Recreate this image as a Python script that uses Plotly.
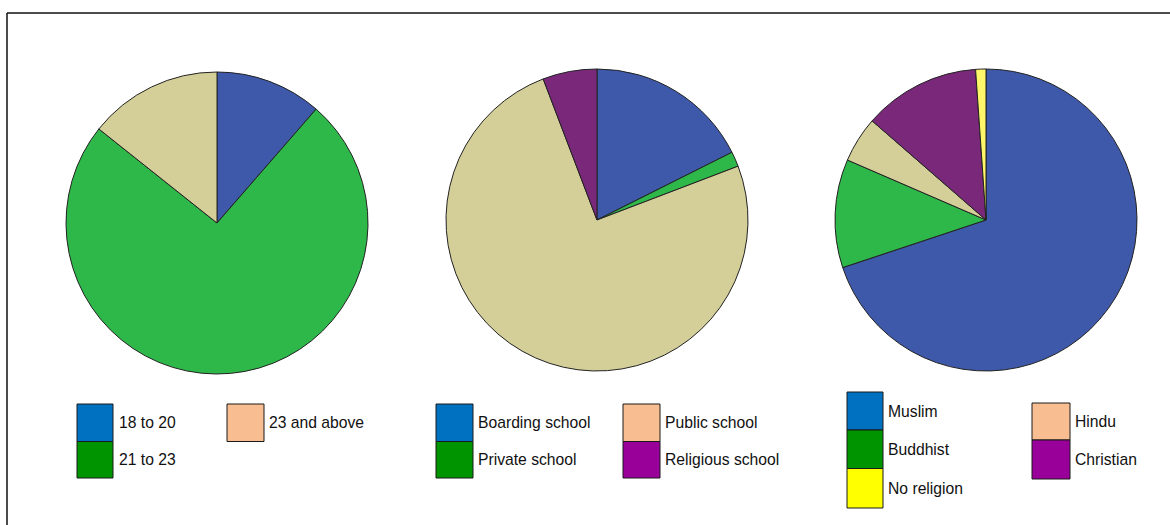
import plotly.graph_objects as go

W, H = 1170, 525

# ---- data ----
age_labels = ["18 to 20", "21 to 23", "23 and above"]
age_values = [11.4, 74.3, 14.3]

school_labels = ["Boarding school", "Private school", "Public school", "Religious school"]
school_values = [17.6, 1.6, 75.0, 5.8]

religion_labels = ["Muslim", "Buddhist", "Hindu", "Christian", "No religion"]
religion_values = [69.9, 11.6, 4.9, 12.5, 1.1]

# slice colours (as drawn in pies)
pie_colors = {
    "18 to 20": "#3e58aa", "21 to 23": "#2eb84a", "23 and above": "#d4cf99",
    "Boarding school": "#3e58aa", "Private school": "#2eb84a",
    "Public school": "#d4cf99", "Religious school": "#7a287a",
    "Muslim": "#3e58aa", "Buddhist": "#2eb84a", "Hindu": "#d4cf99",
    "Christian": "#7a287a", "No religion": "#fdf56a",
}
# legend swatch colours (as drawn in legends)
legend_colors = {
    "18 to 20": "#0070c0", "21 to 23": "#009400", "23 and above": "#f8be91",
    "Boarding school": "#0070c0", "Private school": "#009400",
    "Public school": "#f8be91", "Religious school": "#990099",
    "Muslim": "#0070c0", "Buddhist": "#009400", "Hindu": "#f8be91",
    "Christian": "#990099", "No religion": "#ffff00",
}


def px(x):
    return x / W


def py(y):
    return 1 - y / H


fig = go.Figure()

pies = [
    (age_labels, age_values, 217, 223),
    (school_labels, school_values, 597, 220),
    (religion_labels, religion_values, 986, 220),
]
R = 151
for labels, values, cx, cy in pies:
    fig.add_trace(go.Pie(
        labels=labels, values=values, sort=False, direction="clockwise",
        rotation=0, textinfo="none", hoverinfo="label+percent",
        marker=dict(colors=[pie_colors[l] for l in labels],
                    line=dict(color="#222222", width=1)),
        domain=dict(x=[px(cx - R), px(cx + R)], y=[py(cy + R), py(cy - R)]),
        showlegend=False,
    ))

shapes = []
annotations = []

# frame lines (top and left)
shapes.append(dict(type="line", xref="paper", yref="paper",
                   x0=px(7), x1=1, y0=py(13), y1=py(13),
                   line=dict(color="#111111", width=1.5)))
shapes.append(dict(type="line", xref="paper", yref="paper",
                   x0=px(7), x1=px(7), y0=py(13), y1=0,
                   line=dict(color="#111111", width=1.5)))

# manual legends: (label, box x0, box y0, box x1, box y1, text x)
legend_items = [
    ("18 to 20", 77, 404, 113, 441.5, 117),
    ("21 to 23", 77, 441.5, 113, 478, 117),
    ("23 and above", 227, 404, 264, 441.5, 267),
    ("Boarding school", 436, 404, 473, 441.5, 476),
    ("Private school", 436, 441.5, 473, 478, 476),
    ("Public school", 623, 404, 660, 441.5, 663),
    ("Religious school", 623, 441.5, 660, 478, 663),
    ("Muslim", 847, 392, 883, 430, 886),
    ("Buddhist", 847, 430, 883, 468.5, 886),
    ("No religion", 847, 468.5, 883, 508, 886),
    ("Hindu", 1032, 403, 1070, 440, 1073),
    ("Christian", 1032, 440, 1070, 479, 1073),
]
for label, x0, y0, x1, y1, tx in legend_items:
    shapes.append(dict(type="rect", xref="paper", yref="paper",
                       x0=px(x0), x1=px(x1), y0=py(y1), y1=py(y0),
                       fillcolor=legend_colors[label],
                       line=dict(color="#1a1a1a", width=1)))
    annotations.append(dict(text=label, xref="paper", yref="paper",
                            x=px(tx), y=py((y0 + y1) / 2),
                            xanchor="left", yanchor="middle", showarrow=False,
                            font=dict(family="Liberation Sans, Arial", size=15.7,
                                      color="#111111")))

fig.update_layout(
    width=W, height=H,
    margin=dict(l=0, r=0, t=0, b=0),
    paper_bgcolor="white", plot_bgcolor="white",
    shapes=shapes, annotations=annotations,
)

fig.write_html("out.html", config={"displayModeBar": False},
               post_script="document.body.style.margin='0px';")
